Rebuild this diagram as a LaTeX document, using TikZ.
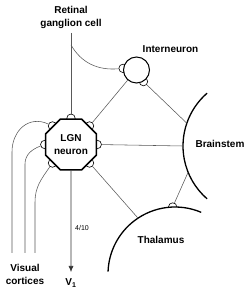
\documentclass[tikz,border=0pt]{standalone}
\usepackage{fontspec}
\setmainfont{Liberation Sans}
\usetikzlibrary{arrows.meta,shapes.geometric,backgrounds}

\begin{document}
\begin{tikzpicture}[x=1pt,y=1pt,>=Latex,
    fibre/.style={draw=black!65,line width=0.55pt},
    bouton/.style={circle,draw,fill=white,inner sep=0pt,minimum size=8.5pt,line width=0.6pt},
    nucleus/.style={line width=1.3pt},
    lbl/.style={font=\fontsize{10}{13}\selectfont\bfseries,align=center}]
  \useasboundingbox (0,0) rectangle (250,292);
  \node[lbl] (rgclbl) at (71,275) {Retinal\\ganglion cell};
  \coordinate (rgc) at (71,259);
  \coordinate (rgcbranch) at (71,247);
  \node[regular polygon,regular polygon sides=8,minimum size=55pt,inner sep=0pt,draw,fill=white,line width=1.6pt,lbl] (lgn) at (71,147.5) {LGN\\neuron};
  \node[circle,draw,fill=white,line width=1pt,minimum size=26pt,inner sep=0pt] (inter) at (136.5,222) {};
  \node[lbl] (interlbl) at (170.5,243) {Interneuron};
  \coordinate (bs) at (253,146);
  \coordinate (thal) at (175,18);
  \path (bs) ++(180:70) coordinate (bsW) (bs) ++(161:70) coordinate (bsN) (bs) ++(202:70) coordinate (bsS);
  \path (thal) ++(123.5:67) coordinate (thalW);
  \coordinate (v1) at (71,20);
  \coordinate (vc1) at (12,39);
  \coordinate (vc2) at (25,39);
  \coordinate (vc3) at (35,39);
  \begin{scope}[on background layer]
    \foreach \a in {0,45,90,135,180,225,315}
      \node[bouton] (b\a) at (lgn.\a) {};
    \node[bouton] (ib1) at (inter.173) {};
    \node[bouton] (ib2) at (inter.301) {};
    \path (thal) ++(92:67) node[bouton] (tb) {};
    \fill[white] (thal) circle[radius=67];
  \end{scope}
  \draw[nucleus] (bs) ++(131:70) arc[start angle=131,end angle=229,radius=70];
  \draw[nucleus] (thal) ++(67:67) arc[start angle=67,end angle=178,radius=67];
  \node[lbl,anchor=west] (bslbl) at (192,148.5) {Brainstem};
  \node[lbl] (thallbl) at (161,52) {Thalamus};
  \draw[fibre] (rgc) -- (b90);
  \draw[fibre] (rgcbranch) to[out=-60,in=185] (ib1);
  \draw[fibre] (inter.229) -- (b45);
  \draw[fibre] (ib2) -- (bsN);
  \draw[fibre] (b0) -- (bsW);
  \draw[fibre] (bsS) -- (tb);
  \draw[fibre] (b315) -- (thalW);
  \draw[fibre] (b135) to[out=155,in=90,looseness=1.2] (12,140) -- (vc1);
  \draw[fibre] (b180) to[out=200,in=90] (25,128) -- (vc2);
  \draw[fibre] (b225) to[out=235,in=90] (35,90) -- (vc3);
  \draw[-{Latex[length=6pt,width=5pt]},black!80,line width=0.6pt] (lgn.south) -- (v1);
  \node[lbl] (v1lbl) at (71,9) {V\textsubscript{1}};
  \node[font=\fontsize{7}{8}\selectfont] (ratio) at (82,64) {4/10};
  \node[lbl] (cortexlbl) at (25,17.5) {Visual\\cortices};
\end{tikzpicture}
\end{document}
